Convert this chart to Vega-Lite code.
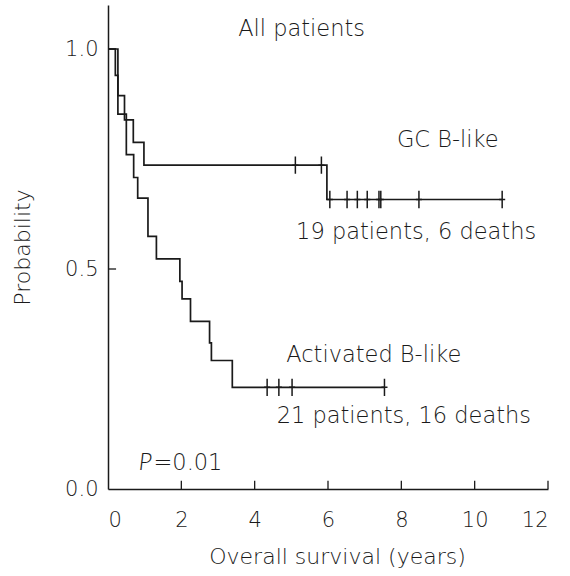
{
  "$schema": "https://vega.github.io/schema/vega-lite/v6.json",
  "width": 440,
  "height": 484,
  "autosize": "none",
  "padding": {"left": 108, "top": 5, "right": 22, "bottom": 87},
  "background": "white",
  "config": {
    "view": {"stroke": null},
    "font": "DejaVu Sans",
    "axis": {
      "grid": false,
      "domainColor": "#1a1a1a",
      "domainWidth": 1.5,
      "ticks": false,
      "labelFont": "DejaVu Sans",
      "labelFontWeight": 200,
      "labelFontSize": 21,
      "labelColor": "#1a1a1a",
      "titleFont": "DejaVu Sans",
      "titleFontWeight": 200,
      "titleFontSize": 22,
      "titleColor": "#1a1a1a"
    }
  },
  "datasets": {
    "curves": [
      {"group": "GC B-like", "t": 0, "s": 1.0},
      {"group": "GC B-like", "t": 0.27, "s": 0.894},
      {"group": "GC B-like", "t": 0.45, "s": 0.839},
      {"group": "GC B-like", "t": 0.69, "s": 0.788},
      {"group": "GC B-like", "t": 0.98, "s": 0.736},
      {"group": "GC B-like", "t": 5.97, "s": 0.658},
      {"group": "GC B-like", "t": 10.75, "s": 0.658},
      {"group": "Activated B-like", "t": 0, "s": 1.0},
      {"group": "Activated B-like", "t": 0.2, "s": 0.94},
      {"group": "Activated B-like", "t": 0.27, "s": 0.852},
      {"group": "Activated B-like", "t": 0.5, "s": 0.76},
      {"group": "Activated B-like", "t": 0.7, "s": 0.708},
      {"group": "Activated B-like", "t": 0.81, "s": 0.661},
      {"group": "Activated B-like", "t": 1.09, "s": 0.574},
      {"group": "Activated B-like", "t": 1.32, "s": 0.523},
      {"group": "Activated B-like", "t": 1.96, "s": 0.472},
      {"group": "Activated B-like", "t": 2.02, "s": 0.432},
      {"group": "Activated B-like", "t": 2.25, "s": 0.381},
      {"group": "Activated B-like", "t": 2.77, "s": 0.332},
      {"group": "Activated B-like", "t": 2.82, "s": 0.292},
      {"group": "Activated B-like", "t": 3.39, "s": 0.231},
      {"group": "Activated B-like", "t": 7.54, "s": 0.231}
    ],
    "censored": [
      {"group": "GC B-like", "t": 5.11, "s": 0.736},
      {"group": "GC B-like", "t": 5.82, "s": 0.736},
      {"group": "GC B-like", "t": 6.05, "s": 0.658},
      {"group": "GC B-like", "t": 6.52, "s": 0.658},
      {"group": "GC B-like", "t": 6.8, "s": 0.658},
      {"group": "GC B-like", "t": 7.07, "s": 0.658},
      {"group": "GC B-like", "t": 7.39, "s": 0.658},
      {"group": "GC B-like", "t": 7.44, "s": 0.658},
      {"group": "GC B-like", "t": 8.48, "s": 0.658},
      {"group": "GC B-like", "t": 10.75, "s": 0.658},
      {"group": "Activated B-like", "t": 4.34, "s": 0.231},
      {"group": "Activated B-like", "t": 4.66, "s": 0.231},
      {"group": "Activated B-like", "t": 5.02, "s": 0.231},
      {"group": "Activated B-like", "t": 7.54, "s": 0.231}
    ],
    "xticks": [
      {"t": 2}, {"t": 4}, {"t": 6}, {"t": 8}, {"t": 10}, {"t": 12}
    ],
    "yticks": [
      {"s": 0.5}, {"s": 1.0}
    ],
    "notes": [
      {"label": "All patients", "t": 3.55, "s": 1.046},
      {"label": "GC B-like", "t": 7.88, "s": 0.794},
      {"label": "19 patients, 6 deaths", "t": 5.13, "s": 0.585},
      {"label": "Activated B-like", "t": 4.86, "s": 0.305},
      {"label": "21 patients, 16 deaths", "t": 4.6, "s": 0.165},
      {"label": "=0.01", "t": 1.24, "s": 0.059}
    ],
    "italic": [
      {"label": "P", "t": 0.84, "s": 0.059}
    ]
  },
  "layer": [
    {
      "data": {"name": "curves"},
      "mark": {"type": "line", "interpolate": "step-after", "color": "#1a1a1a", "strokeWidth": 1.7},
      "encoding": {
        "x": {
          "field": "t", "type": "quantitative",
          "scale": {"domain": [0, 12], "nice": false, "zero": true},
          "axis": {"values": [0, 2, 4, 6, 8, 10, 12], "labelPadding": 20, "title": "Overall survival  (years)", "titlePadding": 16, "titleX": 229}
        },
        "y": {
          "field": "s", "type": "quantitative",
          "scale": {"domain": [0, 1.1], "nice": false},
          "axis": {"values": [0, 0.5, 1.0], "format": ".1f", "labelPadding": 10, "title": "Probability", "titlePadding": 30}
        },
        "detail": {"field": "group"}
      }
    },
    {
      "data": {"name": "xticks"},
      "mark": {"type": "rule", "color": "#1a1a1a", "strokeWidth": 1.3},
      "encoding": {
        "x": {"field": "t", "type": "quantitative"},
        "y": {"datum": 0},
        "y2": {"datum": 0.019}
      }
    },
    {
      "data": {"name": "yticks"},
      "mark": {"type": "rule", "color": "#1a1a1a", "strokeWidth": 1.3},
      "encoding": {
        "y": {"field": "s", "type": "quantitative"},
        "x": {"datum": 0},
        "x2": {"datum": 0.22}
      }
    },
    {
      "data": {"name": "censored"},
      "mark": {"type": "point", "shape": "M0,-1L0,1M-0.35,0L0.35,0", "filled": false, "color": "#1a1a1a", "strokeWidth": 1.5, "size": 300, "opacity": 1},
      "encoding": {
        "x": {"field": "t", "type": "quantitative"},
        "y": {"field": "s", "type": "quantitative"}
      }
    },
    {
      "data": {"name": "notes"},
      "mark": {"type": "text", "align": "left", "baseline": "middle", "font": "DejaVu Sans", "fontWeight": 200, "fontSize": 22.5, "color": "#1a1a1a"},
      "encoding": {
        "x": {"field": "t", "type": "quantitative"},
        "y": {"field": "s", "type": "quantitative"},
        "text": {"field": "label"}
      }
    },
    {
      "data": {"name": "italic"},
      "mark": {"type": "text", "align": "left", "baseline": "middle", "font": "Lato", "fontWeight": 300, "fontStyle": "italic", "fontSize": 24, "color": "#1a1a1a"},
      "encoding": {
        "x": {"field": "t", "type": "quantitative"},
        "y": {"field": "s", "type": "quantitative"},
        "text": {"field": "label"}
      }
    }
  ]
}
